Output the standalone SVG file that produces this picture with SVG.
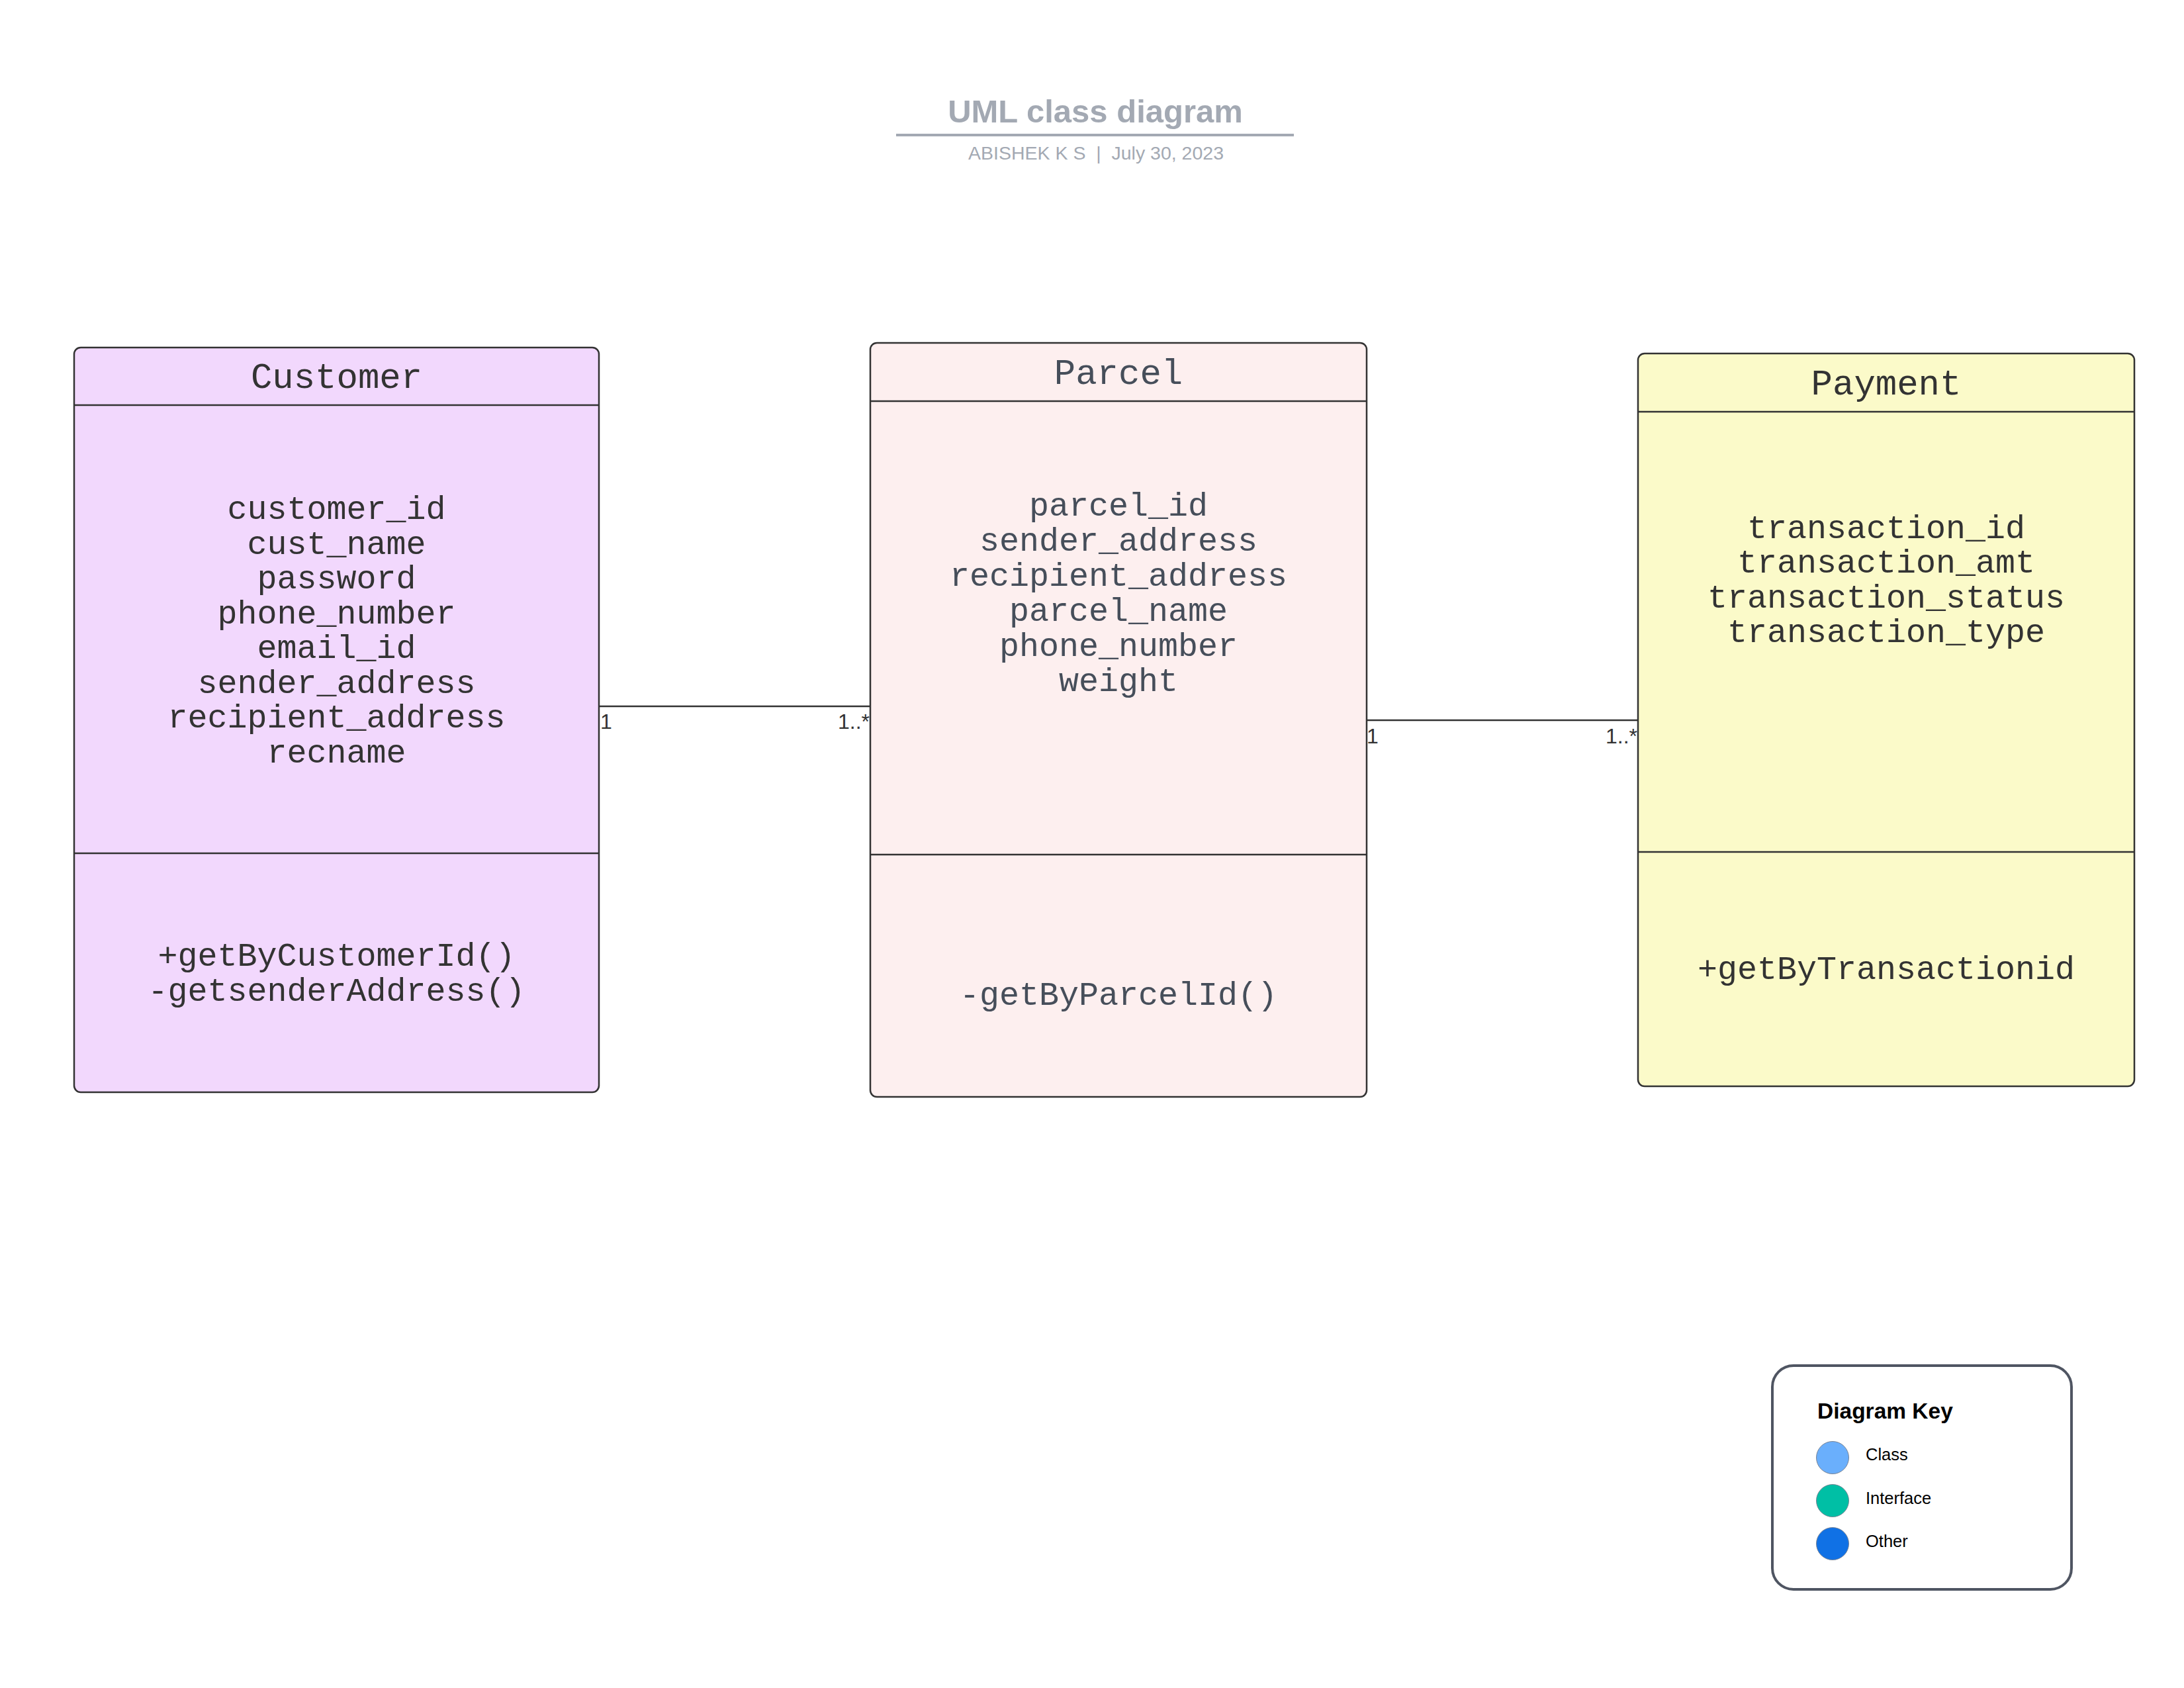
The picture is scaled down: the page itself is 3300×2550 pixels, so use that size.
<svg xmlns="http://www.w3.org/2000/svg" width="3300" height="2550" viewBox="0 0 3300 2550">
  <style>
    .frame { stroke: #333333; stroke-width: 2.5; }
    .divider { stroke: #333333; stroke-width: 2.5; fill: none; }
    .cls-title { font-family: "Liberation Mono", "Courier New", monospace; font-size: 54px; text-anchor: middle; }
    .cls-text { font-family: "Liberation Mono", "Courier New", monospace; font-size: 50px; text-anchor: middle; }
    .dark { fill: #333333; }
    .slate { fill: #464e5a; }
    .link { stroke: #333333; stroke-width: 2.5; fill: none; }
    .mult { font-family: "Liberation Sans", Arial, sans-serif; font-size: 32px; fill: #333333; }
    .heading { font-family: "Liberation Sans", Arial, sans-serif; font-weight: bold; font-size: 49px; fill: #a3a9b3; text-anchor: middle; }
    .byline { font-family: "Liberation Sans", Arial, sans-serif; font-size: 28.5px; fill: #a3a9b3; text-anchor: middle; white-space: pre; }
    .key-title { font-family: "Liberation Sans", Arial, sans-serif; font-weight: bold; font-size: 33.5px; fill: #000000; }
    .key-label { font-family: "Liberation Sans", Arial, sans-serif; font-size: 25.5px; fill: #000000; }
    .swatch { stroke: #7a8494; stroke-width: 1; }
  </style>

  <rect width="3300" height="2550" fill="#ffffff"/>

  <!-- Title block -->
  <g id="title">
    <text class="heading" x="1655" y="185">UML class diagram</text>
    <line x1="1354" y1="204" x2="1955" y2="204" stroke="#a3a9b3" stroke-width="4"/>
    <text class="byline" x="1656" y="241">ABISHEK K S  |  July 30, 2023</text>
  </g>

  <!-- Associations -->
  <g id="connectors">
    <line class="link" x1="905" y1="1067" x2="1315" y2="1067"/>
    <text class="mult" x="907" y="1101">1</text>
    <text class="mult" x="1314" y="1101" text-anchor="end">1..*</text>

    <line class="link" x1="2065" y1="1088" x2="2475" y2="1088"/>
    <text class="mult" x="2065" y="1123">1</text>
    <text class="mult" x="2474" y="1123" text-anchor="end">1..*</text>
  </g>

  <!-- Customer class -->
  <g id="customer">
    <rect class="frame" x="112" y="525" width="793" height="1125" rx="10" fill="#f2d8fd"/>
    <line class="divider" x1="112" y1="612" x2="905" y2="612"/>
    <line class="divider" x1="112" y1="1289" x2="905" y2="1289"/>
    <text class="cls-title dark" x="508.5" y="586">Customer</text>
    <text class="cls-text dark" x="508.5" y="784">customer_id</text>
    <text class="cls-text dark" x="508.5" y="836.5">cust_name</text>
    <text class="cls-text dark" x="508.5" y="889">password</text>
    <text class="cls-text dark" x="508.5" y="941.5">phone_number</text>
    <text class="cls-text dark" x="508.5" y="994">email_id</text>
    <text class="cls-text dark" x="508.5" y="1046.5">sender_address</text>
    <text class="cls-text dark" x="508.5" y="1099">recipient_address</text>
    <text class="cls-text dark" x="508.5" y="1151.5">recname</text>
    <text class="cls-text dark" x="508.5" y="1459">+getByCustomerId()</text>
    <text class="cls-text dark" x="508.5" y="1511.5">-getsenderAddress()</text>
  </g>

  <!-- Parcel class -->
  <g id="parcel">
    <rect class="frame" x="1315" y="518" width="750" height="1139" rx="10" fill="#fdefef"/>
    <line class="divider" x1="1315" y1="606" x2="2065" y2="606"/>
    <line class="divider" x1="1315" y1="1291" x2="2065" y2="1291"/>
    <text class="cls-title slate" x="1690" y="580">Parcel</text>
    <text class="cls-text slate" x="1690" y="779">parcel_id</text>
    <text class="cls-text slate" x="1690" y="832">sender_address</text>
    <text class="cls-text slate" x="1690" y="885">recipient_address</text>
    <text class="cls-text slate" x="1690" y="938">parcel_name</text>
    <text class="cls-text slate" x="1690" y="991">phone_number</text>
    <text class="cls-text slate" x="1690" y="1044">weight</text>
    <text class="cls-text slate" x="1690" y="1518">-getByParcelId()</text>
  </g>

  <!-- Payment class -->
  <g id="payment">
    <rect class="frame" x="2475" y="534" width="750" height="1107" rx="10" fill="#fbfac9"/>
    <line class="divider" x1="2475" y1="622" x2="3225" y2="622"/>
    <line class="divider" x1="2475" y1="1287" x2="3225" y2="1287"/>
    <text class="cls-title dark" x="2850" y="596">Payment</text>
    <text class="cls-text dark" x="2850" y="812.5">transaction_id</text>
    <text class="cls-text dark" x="2850" y="865">transaction_amt</text>
    <text class="cls-text dark" x="2850" y="917.5">transaction_status</text>
    <text class="cls-text dark" x="2850" y="970">transaction_type</text>
    <text class="cls-text dark" x="2850" y="1479">+getByTransactionid</text>
  </g>

  <!-- Legend -->
  <g id="diagram-key">
    <rect x="2678" y="2063" width="452" height="338" rx="32" fill="#ffffff" stroke="#4f5562" stroke-width="4"/>
    <text class="key-title" x="2746" y="2143">Diagram Key</text>
    <circle class="swatch" cx="2769" cy="2202" r="24.5" fill="#6aaffc"/>
    <text class="key-label" x="2819" y="2206">Class</text>
    <circle class="swatch" cx="2769" cy="2267" r="24.5" fill="#00bfa5"/>
    <text class="key-label" x="2819" y="2272">Interface</text>
    <circle class="swatch" cx="2769" cy="2332" r="24.5" fill="#1071e5"/>
    <text class="key-label" x="2819" y="2337">Other</text>
  </g>
</svg>
